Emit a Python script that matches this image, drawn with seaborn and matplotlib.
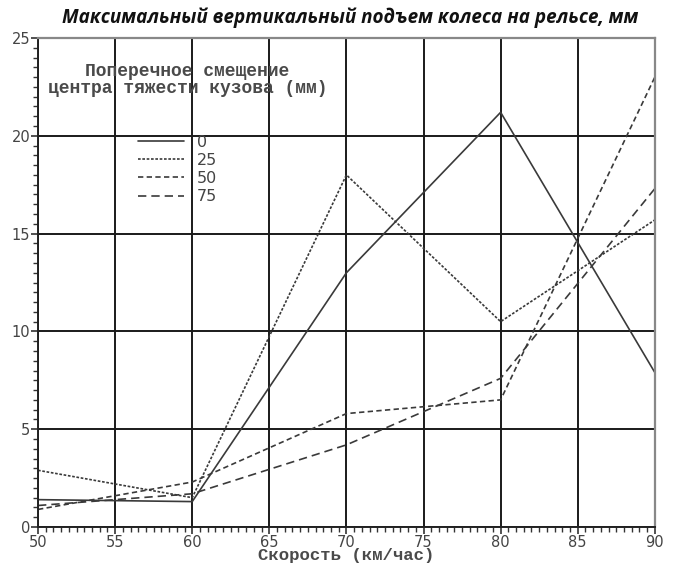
import matplotlib
matplotlib.use("Agg")
import matplotlib.pyplot as plt
import seaborn as sns
import pandas as pd

# Speed (km/h) and wheel lift (mm) for each lateral offset of the body's centre of gravity
speed = [50, 60, 70, 80, 90]
lift_0 = [1.4, 1.3, 13.0, 21.2, 7.9]
lift_25 = [2.9, 1.5, 18.0, 10.5, 15.7]
lift_50 = [0.9, 2.3, 5.8, 6.5, 23.0]
lift_75 = [1.1, 1.7, 4.2, 7.6, 17.3]
offsets = ["0", "25", "50", "75"]

x_ticks = [50, 55, 60, 65, 70, 75, 80, 85, 90]
y_ticks = [0, 5, 10, 15, 20, 25]

title = "Максимальный вертикальный подъем колеса на рельсе, мм"
legend_title = "Поперечное смещение\nцентра тяжести кузова (мм)"
x_label = "Скорость (км/час)"

rows = []
for name, vals in zip(offsets, [lift_0, lift_25, lift_50, lift_75]):
    for s, v in zip(speed, vals):
        rows.append({"speed": s, "lift": v, "offset": name})
df = pd.DataFrame(rows)

sns.set_style("white")
fig = plt.figure(figsize=(6.73, 5.67), dpi=100)
ax = fig.add_axes([0.0565, 0.0705, 0.9165, 0.8625])

ink = "#3a3a3a"
dash_map = {"0": "", "25": (1.6, 1.0), "50": (3.2, 2.0), "75": (5.0, 3.0)}
sns.lineplot(data=df, x="speed", y="lift", style="offset", style_order=offsets,
             dashes=dash_map, color=ink, linewidth=1.2, ax=ax, legend=False)

ax.set_xlim(50, 90)
ax.set_ylim(0, 25)
ax.set_xticks(x_ticks)
ax.set_yticks(y_ticks)
ax.set_xticks([v / 2 for v in range(100, 181)], minor=True)
ax.set_yticks([v / 2 for v in range(0, 51)], minor=True)
ax.grid(True, which="major", color="#1a1a1a", linewidth=1.4)
ax.tick_params(axis="both", which="major", direction="out", length=5, width=1.2,
               color="#333333", labelsize=10.5, labelcolor="#444444", pad=0.5,
               bottom=True, left=True)
ax.tick_params(axis="both", which="minor", direction="out", length=3.5, width=1.0,
               color="#333333", bottom=True, left=True)
for side in ["left", "bottom"]:
    ax.spines[side].set_color("#222222")
    ax.spines[side].set_linewidth(1.4)
for side in ["top", "right"]:
    ax.spines[side].set_color("#888888")
    ax.spines[side].set_linewidth(1.6)

ax.set_xlabel(x_label, family="Liberation Mono", fontsize=12.5, fontweight="bold",
              color="#4a4a4a", labelpad=-1)
ax.set_ylabel("")

fig.text(0.521, 0.968, title, ha="center", va="center", fontsize=13.6,
         fontweight="bold", fontstyle="italic", family="Open Sans", color="#111111")

ax.text(59.7, 22.85, legend_title, ha="center", va="center", family="Liberation Mono",
        fontsize=13.0, fontweight="bold", color="#4a4a4a", linespacing=0.95)

handles = []
for name in offsets:
    (h,) = ax.plot([], [], color=ink, linewidth=1.2,
                   dashes=dash_map[name] if dash_map[name] else (None, None),
                   label=name)
    handles.append(h)
ax.legend(handles=handles, labels=offsets, loc="upper left",
          bbox_to_anchor=(0.139, 0.832), frameon=False, fontsize=11.5,
          handlelength=2.9, handletextpad=0.8, labelspacing=0.2,
          labelcolor="#444444")

fig.savefig("out.png", dpi=100, facecolor="white")
